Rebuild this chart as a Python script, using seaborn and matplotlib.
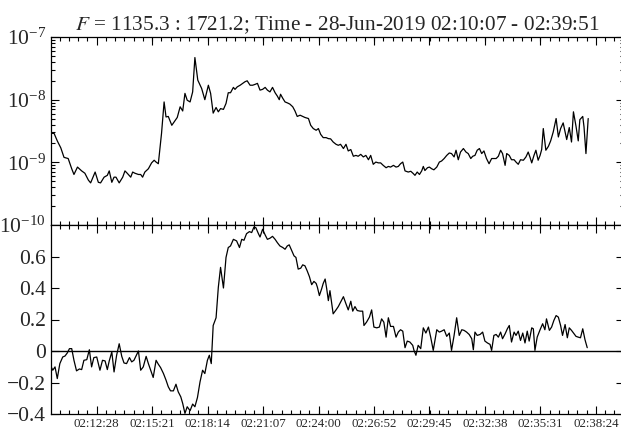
import matplotlib
matplotlib.use("Agg")
import matplotlib.pyplot as plt
from matplotlib.ticker import FixedLocator, LogFormatterMathtext, NullFormatter
import numpy as np
import pandas as pd
import seaborn as sns

# tempi in secondi dall'inizio (02:10:07)
t_start = "02:10:07"
t_end = "02:39:51"

top_t = [0, 8, 18, 29, 39, 52, 63, 70, 81, 94, 104, 115, 122, 136, 146, 153, 164, 174, 180, 188,
         195, 201, 211, 222, 229, 236, 247, 253, 260, 271, 278, 284, 291, 302, 312, 320, 326, 333, 343, 351,
         357, 364, 375, 382, 392, 401, 409, 416, 423, 432, 440, 447, 456, 468, 478, 489, 496, 504, 513, 520,
         527, 536, 544, 551, 558, 567,
         572, 579, 588, 596, 603, 610, 619, 627, 634, 642, 650, 658, 666, 673, 681, 689, 697, 704, 710, 714,
         721, 728, 735, 743, 752, 759, 766, 775, 783, 790, 801, 808, 816, 825, 832, 839, 847, 856, 863, 870,
         878, 887, 894, 901, 910, 918, 925, 933, 941, 949, 956, 964, 972, 980, 988, 995, 1003, 1011, 1019, 1026,
         1034, 1043, 1050, 1057, 1066, 1074, 1081, 1088, 1095, 1102, 1112, 1120, 1128,
         1133, 1140, 1147, 1154, 1159, 1164, 1172, 1178, 1185, 1192, 1201, 1209, 1216, 1224, 1232, 1240, 1247, 1255, 1261, 1268,
         1275, 1284, 1292, 1299, 1307, 1313, 1320, 1327, 1334, 1341, 1348, 1356, 1364, 1372, 1379, 1386, 1393, 1400, 1406, 1414,
         1419, 1427, 1434, 1442, 1448, 1455, 1462, 1471, 1479, 1486, 1492, 1497, 1504, 1510, 1517, 1523, 1528, 1533, 1541, 1549,
         1556, 1564, 1573, 1580, 1587, 1595, 1601, 1606, 1614, 1621, 1627, 1635, 1642, 1647, 1656, 1660, 1666, 1673]

top_val = [2.9e-9, 2.9e-9, 2.2e-9, 1.7e-9, 1.2e-9, 1.15e-9, 7.9e-10, 6.4e-10, 8.4e-10, 7.3e-10,
           6.7e-10, 5.2e-10, 4.7e-10, 7.0e-10, 4.8e-10, 4.7e-10, 5.8e-10, 6.2e-10, 7.3e-10, 4.8e-10,
           5.8e-10, 5.8e-10, 4.7e-10, 5.8e-10, 7.3e-10, 6.7e-10, 5.8e-10, 7.0e-10, 6.7e-10, 6.4e-10,
           6.4e-10, 5.8e-10, 7.0e-10, 7.9e-10, 9.8e-10, 1.08e-9, 1.01e-9, 9.5e-10, 2.9e-9, 9.2e-9,
           5.3e-9, 5.4e-9, 3.9e-9, 4.4e-9, 5.2e-9, 7.7e-9, 6.6e-9, 1.26e-8, 9.8e-9, 9.2e-9,
           1.33e-8, 4.7e-8, 2.05e-8, 1.51e-8, 1.0e-8, 1.7e-8, 1.26e-8, 6.1e-9, 7.5e-9, 6.4e-9,
           7.2e-9, 7.0e-9, 8.7e-9, 1.29e-8, 1.29e-8, 1.57e-8,
           1.46e-8, 1.60e-8, 1.7e-8, 1.82e-8, 1.93e-8, 2.0e-8, 1.7e-8, 1.7e-8, 1.75e-8, 1.82e-8,
           1.42e-8, 1.46e-8, 1.57e-8, 1.42e-8, 1.33e-8, 1.57e-8, 1.29e-8, 1.14e-8, 1.0e-8, 1.22e-8,
           1.05e-8, 9.2e-9, 8.9e-9, 8.5e-9, 7.7e-9, 6.6e-9, 5.4e-9, 5.65e-9, 5.4e-9, 5.2e-9,
           5.0e-9, 3.9e-9, 3.46e-9, 3.25e-9, 3.46e-9, 2.8e-9, 2.48e-9, 2.48e-9, 2.39e-9, 2.37e-9,
           2.11e-9, 1.94e-9, 1.87e-9, 1.94e-9, 1.66e-9, 1.94e-9, 1.52e-9, 1.60e-9, 1.25e-9, 1.29e-9,
           1.25e-9, 1.34e-9, 1.22e-9, 1.29e-9, 1.10e-9, 1.29e-9, 9.3e-10, 1.01e-9, 9.8e-10, 9.8e-10,
           8.95e-10, 8.2e-10, 8.6e-10, 8.4e-10, 8.95e-10, 8.4e-10, 8.6e-10, 9.5e-10, 1.01e-9, 7.3e-10,
           7.0e-10, 7.2e-10, 6.6e-10,
           6.2e-10, 7.0e-10, 6.4e-10, 7.3e-10, 8.6e-10, 7.4e-10, 8.2e-10, 8.4e-10, 7.9e-10, 7.6e-10,
           8.4e-10, 1.01e-9, 1.05e-9, 1.15e-9, 1.29e-9, 1.41e-9, 1.38e-9, 1.22e-9, 1.56e-9, 1.10e-9,
           1.46e-9, 1.66e-9, 1.46e-9, 1.38e-9, 1.15e-9, 1.25e-9, 1.29e-9, 1.56e-9, 1.66e-9, 1.38e-9,
           1.52e-9, 1.15e-9, 9.5e-10, 1.15e-9, 1.15e-9, 1.15e-9, 1.25e-9, 1.56e-9, 1.38e-9, 8.95e-10,
           1.38e-9, 1.29e-9, 1.10e-9, 1.10e-9, 1.01e-9, 9.3e-10, 1.10e-9, 1.08e-9, 1.22e-9, 1.46e-9,
           1.19e-9, 9.8e-10, 1.29e-9, 1.56e-9, 1.08e-9, 1.29e-9, 1.60e-9, 3.46e-9, 1.56e-9, 1.80e-9,
           2.2e-9, 3.05e-9, 5.0e-9, 2.54e-9, 3.46e-9, 4.26e-9, 3.05e-9, 2.31e-9, 3.59e-9, 2.11e-9,
           6.4e-9, 3.77e-9, 2.2e-9, 4.8e-9, 5.4e-9, 3.67e-9, 1.38e-9, 5.0e-9]

bot_t = [0, 4, 11, 18, 26, 35, 42, 49, 56, 63, 70, 78, 87, 94, 101, 110, 118, 125, 132, 141,
         151, 159, 167, 174, 180, 188, 195, 203, 211, 219, 226, 234, 243, 250, 257, 263, 271, 278, 286, 295,
         302, 309, 317, 326, 333, 340, 349, 357, 364, 371, 380, 388, 395, 403, 409, 416, 423, 432, 440, 447,
         455, 463, 471, 478, 486, 492, 498, 504, 513, 520, 527, 536, 544, 551, 558, 567,
         577, 586, 593, 600, 608, 617, 624, 631, 637, 645, 650, 658, 666, 673, 681, 689, 697, 704, 712, 721,
         728, 735, 741, 749, 756, 762, 769, 777, 783, 790, 797, 804, 811, 818, 825, 829, 835, 842, 847, 853,
         858, 863, 868, 873, 878, 887, 894, 901, 910, 918, 925, 933, 939, 946, 953, 962, 970, 974, 982, 991,
         998, 1005, 1014, 1022, 1029, 1036, 1043, 1050, 1057, 1066, 1074, 1081, 1088, 1095, 1102, 1109, 1117, 1126, 1130,
         1136, 1143, 1151, 1159, 1167, 1175, 1182, 1190, 1201, 1209, 1216, 1224, 1232, 1240, 1247, 1255, 1263, 1271, 1279, 1286,
         1294, 1302, 1310, 1315, 1320, 1327, 1336, 1344, 1351, 1359, 1367, 1372, 1379, 1386, 1393, 1400, 1406, 1414, 1421, 1427,
         1434, 1442, 1448, 1455, 1462, 1469, 1476, 1483, 1489, 1497, 1502, 1507, 1514, 1523, 1531, 1538, 1543, 1552, 1559, 1566,
         1573, 1580, 1587, 1593, 1601, 1608, 1614, 1621, 1629, 1635, 1642, 1649, 1656, 1663, 1670]

bot_val = [-0.105, -0.122, -0.101, -0.175, -0.080, -0.038, -0.032, -0.013, 0.015, 0.015,
           -0.059, -0.126, -0.114, -0.118, -0.059, -0.055, 0.008, -0.101, -0.042, -0.038,
           -0.122, -0.059, -0.063, -0.118, -0.063, -0.006, -0.133, -0.027, 0.046, -0.034,
           -0.076, -0.080, -0.042, -0.069, -0.059, -0.034, 0.0, -0.122, -0.101, -0.034,
           -0.080, -0.122, -0.168, -0.059, -0.084, -0.105, -0.143, -0.185, -0.227, -0.253,
           -0.253, -0.211, -0.259, -0.291, -0.333, -0.396, -0.354, -0.379, -0.337, -0.354,
           -0.295, -0.196, -0.122, -0.143, -0.059, -0.027, -0.080, 0.162, 0.211, 0.404,
           0.531, 0.400, 0.594, 0.657, 0.667, 0.709,
           0.699, 0.657, 0.709, 0.703, 0.745, 0.758, 0.752, 0.787, 0.783, 0.745,
           0.724, 0.773, 0.737, 0.709, 0.716, 0.728, 0.709, 0.688, 0.667, 0.657,
           0.646, 0.667, 0.674, 0.636, 0.604, 0.594, 0.520, 0.526, 0.547, 0.541,
           0.509, 0.472, 0.421, 0.442, 0.429, 0.404, 0.352, 0.394, 0.429, 0.457,
           0.394, 0.320, 0.383, 0.309, 0.236, 0.261, 0.282, 0.309, 0.345, 0.299,
           0.261, 0.316, 0.253, 0.282, 0.257, 0.253, 0.253, 0.162, 0.183, 0.215,
           0.261, 0.152, 0.147, 0.152, 0.204, 0.183, 0.088, 0.211, 0.156, 0.156,
           0.088, 0.120, 0.135, 0.126, 0.021, 0.063, 0.057, 0.036, 0.004,
           -0.027, 0.036, 0.015, 0.147, 0.114, 0.152, 0.088, 0.004, 0.135, 0.120,
           0.126, 0.135, 0.093, 0.114, 0.004, 0.099, 0.211, 0.099, 0.135, 0.131,
           0.120, 0.105, 0.078, 0.008, 0.120, 0.099, 0.105, 0.120, 0.063, 0.051,
           0.042, 0.004, 0.099, 0.105, 0.088, 0.120, 0.078, 0.109, 0.141, 0.162,
           0.057, 0.120, 0.099, 0.126, 0.067, 0.114, 0.051, 0.126, 0.063, 0.147,
           0.141, 0.004, 0.088, 0.135, 0.173, 0.135, 0.204, 0.131, 0.152, 0.194,
           0.225, 0.215, 0.162, 0.099, 0.168, 0.084, 0.147, 0.131, 0.109, 0.093,
           0.088, 0.084, 0.141, 0.072, 0.021]

xtick_labels = ["02:12:28", "02:15:21", "02:18:14", "02:21:07", "02:24:00",
                "02:26:52", "02:29:45", "02:32:38", "02:35:31", "02:38:24"]
top_yticks = [1e-10, 1e-9, 1e-8, 1e-7]
bot_yticks = [-0.4, -0.2, 0.0, 0.2, 0.4, 0.6]
bot_ylabels = ["\u22120.4", "\u22120.2", "0", "0.2", "0.4", "0.6"]


def secs(s):
    h, m, x = s.split(":")
    return int(h) * 3600 + int(m) * 60 + int(x)


t0 = secs(t_start)
t1 = secs(t_end) - t0
xmaj = [secs(s) - t0 for s in xtick_labels]
step = (xmaj[-1] - xmaj[0]) / (len(xmaj) - 1) / 6
xmin = np.arange(xmaj[0] - 4 * step, t1, step)
ymin_top = [m * d for d in top_yticks[:-1] for m in range(2, 10)]

sns.set_style("ticks")
plt.rcParams['font.family'] = ['Liberation Serif', 'DejaVu Serif']
plt.rcParams['mathtext.fontset'] = 'stix'

fig = plt.figure(figsize=(6.21, 4.30), dpi=100)
left, width = 51.5 / 621, (623.8 - 51.5) / 621
ax1 = fig.add_axes([left, 205 / 430, width, 188 / 430])
ax2 = fig.add_axes([left, 16 / 430, width, 189 / 430])

df_top = pd.DataFrame({'t': top_t, 'v': top_val})
df_bot = pd.DataFrame({'t': bot_t, 'v': bot_val})

sns.lineplot(data=df_top, x='t', y='v', ax=ax1, color='black', linewidth=0.9,
             estimator=None, sort=False)
sns.lineplot(data=df_bot, x='t', y='v', ax=ax2, color='black', linewidth=0.9,
             estimator=None, sort=False)
ax2.axhline(0, color='black', linewidth=1.0)

ax1.set_yscale('log')
ax1.set_ylim(1e-10, 1e-7)
ax1.yaxis.set_major_locator(FixedLocator(top_yticks))
ax1.yaxis.set_major_formatter(LogFormatterMathtext())
ax1.yaxis.set_minor_locator(FixedLocator(ymin_top))
ax1.yaxis.set_minor_formatter(NullFormatter())

ax2.set_ylim(-0.4, 0.8)
ax2.set_yticks(bot_yticks)
ax2.set_yticklabels(bot_ylabels)

for ax in (ax1, ax2):
    ax.set_xlim(0, t1)
    ax.xaxis.set_major_locator(FixedLocator(xmaj))
    ax.xaxis.set_minor_locator(FixedLocator(xmin))
    ax.set_xlabel('')
    ax.set_ylabel('')
    ax.tick_params(which='both', direction='in', top=True, right=True, color='black', width=0.8)
    ax.tick_params(which='major', length=6)
    ax.tick_params(which='minor', length=3)
    ax.tick_params(axis='y', labelsize=15.5, pad=4)
    for sp in ax.spines.values():
        sp.set_linewidth(0.9)
        sp.set_color('black')

ax1.set_xticklabels([])
ax2.set_xticklabels(xtick_labels)
ax2.tick_params(axis='x', labelsize=9.3, pad=3)

ax1.set_title(r"$F$ = 1135.3 : 1721.2; Time - 28-Jun-2019 " + t_start + " - " + t_end,
              fontsize=15.3, pad=5)

fig.savefig('out.png', dpi=100)
